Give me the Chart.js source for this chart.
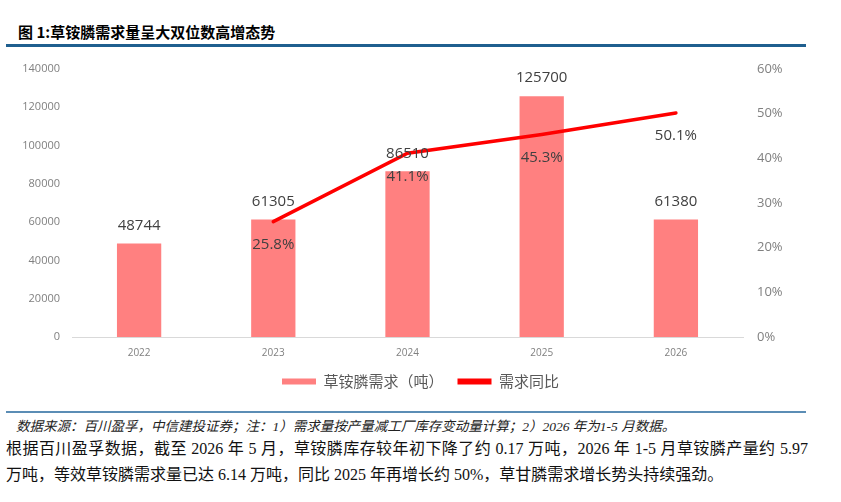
<!DOCTYPE html>
<html>
<head>
<meta charset="utf-8">
<script src="https://cdn.jsdelivr.net/npm/chart.js@4.4.1/dist/chart.umd.min.js"></script>
<style>
  html, body { margin: 0; padding: 0; background: #fff; }
  body { width: 841px; height: 502px; position: relative; overflow: hidden; }
  .title {
    position: absolute; left: 18px; top: 21px;
    font: bold 15px "Noto Sans CJK SC", sans-serif; color: #000;
  }
  .rule-top { position: absolute; left: 6px; top: 44px; width: 800px; height: 3px; background: #1f5f8f; }
  .rule-bot { position: absolute; left: 6px; top: 411px; width: 800px; height: 2px; background: #5b8db5; }
  .source {
    position: absolute; left: 16px; top: 415px;
    font: italic 13.5px "Liberation Serif", "Noto Sans CJK SC", serif; color: #222;
  }
  .body {
    position: absolute; left: 6px; top: 436px; width: 802px;
    font: 16px "Liberation Serif", "Noto Sans CJK SC", serif; color: #111; line-height: 26px;
  }
  .body .l1 { text-align: justify; text-align-last: justify; white-space: nowrap; }
  .wrap { position: absolute; left: 0; top: 47px; width: 841px; height: 352px; }
</style>
</head>
<body>
<div class="title">图 1:草铵膦需求量呈大双位数高增态势</div>
<div class="rule-top"></div>
<div class="wrap"><canvas id="demandChart"></canvas></div>
<div class="rule-bot"></div>
<div class="source">数据来源：百川盈孚，中信建投证券；注：1）需求量按产量减工厂库存变动量计算；2）2026 年为1-5 月数据。</div>
<div class="body">
  <div class="l1">根据百川盈孚数据，截至 2026 年 5 月，草铵膦库存较年初下降了约 0.17 万吨，2026 年 1-5 月草铵膦产量约 5.97</div>
  <div>万吨，等效草铵膦需求量已达 6.14 万吨，同比 2025 年再增长约 50%，草甘膦需求增长势头持续强劲。</div>
</div>
<script>
const years = ['2022', '2023', '2024', '2025', '2026'];
const demand = [48744, 61305, 86510, 125700, 61380];
const yoyPct = [null, 25.8, 41.1, 45.3, 50.1];
const leftMax = 140000;
const leftStep = 20000;
const rightMax = 60;
const rightStep = 10;

const COL_BAR = '#ff8080';
const COL_LINE = '#ff0000';
const COL_TICK = '#808080';
const COL_LABEL = '#404040';

// draw value labels above bars and under line points
const valueLabels = {
  id: 'valueLabels',
  afterDatasetsDraw(chart) {
    const ctx = chart.ctx;
    ctx.save();
    ctx.font = '15px "Open Sans", sans-serif';
    ctx.fillStyle = COL_LABEL;
    ctx.textAlign = 'center';
    ctx.textBaseline = 'middle';
    chart.getDatasetMeta(0).data.forEach((el, i) => {
      ctx.fillText(String(demand[i]), el.x, el.y - 18);
    });
    chart.getDatasetMeta(1).data.forEach((el, i) => {
      if (yoyPct[i] == null) return;
      ctx.fillText(yoyPct[i].toFixed(1) + '%', el.x, el.y + 23);
    });
    ctx.restore();
  }
};

new Chart(document.getElementById('demandChart'), {
  data: {
    labels: years,
    datasets: [
      {
        type: 'bar',
        label: '草铵膦需求（吨）',
        data: demand,
        backgroundColor: COL_BAR,
        yAxisID: 'y',
        categoryPercentage: 1,
        barPercentage: 0.33,
        order: 2
      },
      {
        type: 'line',
        label: '需求同比',
        data: yoyPct,
        borderColor: COL_LINE,
        backgroundColor: COL_LINE,
        borderWidth: 3.5,
        borderCapStyle: 'round',
        pointRadius: 0,
        tension: 0,
        yAxisID: 'y1',
        order: 1
      }
    ]
  },
  options: {
    responsive: true,
    maintainAspectRatio: false,
    animation: false,
    layout: { padding: { top: 6, left: 0, right: 0, bottom: 0 } },
    plugins: {
      tooltip: { enabled: false },
      legend: {
        position: 'bottom',
        labels: {
          boxWidth: 34,
          boxHeight: 6,
          padding: 14,
          color: '#595959',
          font: { family: '"Noto Sans CJK SC", sans-serif', size: 15 },
          generateLabels(chart) {
            return chart.data.datasets.map((ds, i) => ({
              text: ds.label,
              fillStyle: ds.backgroundColor,
              strokeStyle: ds.backgroundColor,
              lineWidth: 0,
              fontColor: '#595959',
              datasetIndex: i
            }));
          }
        }
      }
    },
    scales: {
      x: {
        grid: { display: false, drawTicks: false },
        border: { display: true, color: '#d9d9d9' },
        ticks: { color: COL_TICK, padding: 10, font: { family: '"Open Sans", sans-serif', size: 10 } },
        afterFit(scale) { scale.height = 23; }
      },
      y: {
        position: 'left',
        min: 0,
        max: leftMax,
        grid: { display: false, drawTicks: false },
        border: { display: false },
        ticks: {
          stepSize: leftStep,
          color: COL_TICK,
          padding: 12,
          font: { family: '"Open Sans", sans-serif', size: 11 },
          callback: v => String(v)
        },
        afterFit(scale) { scale.width = 72; }
      },
      y1: {
        position: 'right',
        min: 0,
        max: rightMax,
        grid: { display: false, drawTicks: false },
        border: { display: false },
        ticks: {
          stepSize: rightStep,
          color: COL_TICK,
          padding: 14,
          font: { family: '"Open Sans", sans-serif', size: 13 },
          callback: v => v + '%'
        },
        afterFit(scale) { scale.width = 98; }
      }
    }
  },
  plugins: [valueLabels]
});
</script>
</body>
</html>
